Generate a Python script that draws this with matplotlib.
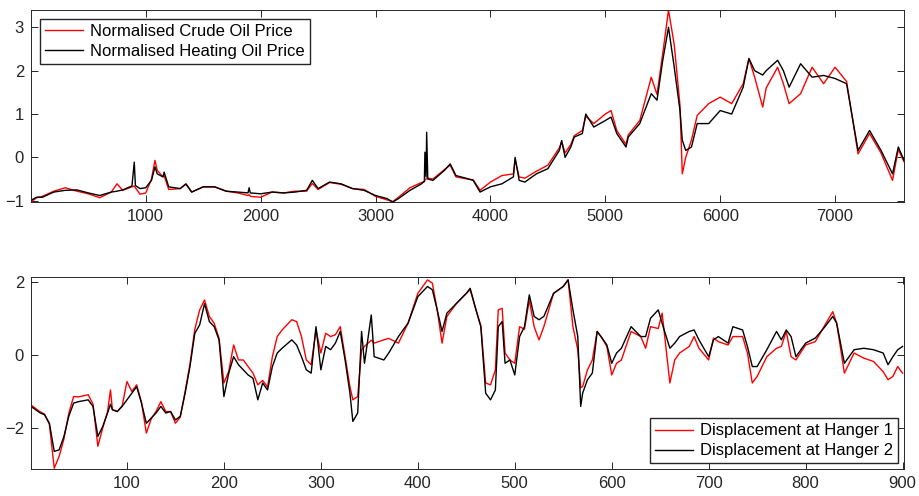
import numpy as np
import matplotlib.pyplot as plt

plt.rcParams['font.family'] = ['Liberation Sans', 'DejaVu Sans']

# top panel: oil prices (sample index, normalised value)
oil_x = [1, 50, 100, 200, 300, 400, 500, 600, 700, 750, 800, 880, 900, 910, 950,
         1000, 1050, 1080, 1100, 1150, 1160, 1200, 1300, 1350, 1400, 1500, 1600,
         1700, 1800, 1890, 1900, 1910, 2000, 2100, 2200, 2300, 2400, 2450, 2500,
         2600, 2700, 2800, 2900, 3000, 3100, 3150, 3200, 3300, 3400, 3425, 3430,
         3440, 3445, 3455, 3500, 3600, 3650, 3700, 3800, 3850, 3910, 4000, 4100,
         4200, 4215, 4250, 4300, 4400, 4500, 4600, 4620, 4650, 4700, 4730, 4800,
         4830, 4900, 5000, 5050, 5100, 5180, 5200, 5300, 5400, 5450, 5500, 5550,
         5600, 5650, 5670, 5700, 5750, 5800, 5900, 6000, 6100, 6200, 6250, 6300,
         6370, 6400, 6500, 6550, 6600, 6700, 6800, 6900, 7000, 7100, 7200, 7300,
         7400, 7500, 7550, 7600]
heating = [-0.99, -0.92, -0.92, -0.80, -0.76, -0.75, -0.82, -0.88, -0.80, -0.78,
           -0.75, -0.66, -0.11, -0.65, -0.72, -0.70, -0.53, -0.22, -0.38, -0.45,
           -0.34, -0.68, -0.72, -0.61, -0.80, -0.68, -0.68, -0.78, -0.80, -0.82,
           -0.70, -0.82, -0.84, -0.80, -0.82, -0.80, -0.76, -0.53, -0.72, -0.57,
           -0.61, -0.72, -0.76, -0.88, -0.95, -1.03, -0.95, -0.76, -0.61, -0.55,
           0.12, -0.45, 0.58, -0.50, -0.53, -0.30, -0.15, -0.42, -0.49, -0.53,
           -0.80, -0.68, -0.61, -0.45, 0.00, -0.53, -0.57, -0.38, -0.26, 0.16,
           0.39, 0.00, 0.24, 0.47, 0.55, 1.00, 0.70, 0.85, 0.93, 0.55, 0.24,
           0.47, 0.78, 1.47, 1.32, 2.24, 3.00, 2.08, 1.08, 0.40, 0.16, 0.24,
           0.78, 0.78, 1.08, 1.00, 1.62, 2.28, 2.00, 1.90, 2.00, 2.24, 2.00,
           1.62, 2.16, 1.85, 1.89, 1.82, 1.70, 0.16, 0.62, 0.16, -0.38, 0.24,
           -0.07]
crude = [-1.03, -0.93, -0.90, -0.78, -0.70, -0.78, -0.84, -0.93, -0.80, -0.61,
         -0.76, -0.68, -0.66, -0.70, -0.85, -0.82, -0.50, -0.07, -0.30, -0.45,
         -0.42, -0.74, -0.72, -0.62, -0.80, -0.68, -0.68, -0.78, -0.82, -0.88,
         -0.86, -0.90, -0.92, -0.80, -0.82, -0.78, -0.78, -0.60, -0.74, -0.58,
         -0.62, -0.72, -0.74, -0.90, -0.98, -1.02, -0.92, -0.70, -0.58, -0.56,
         -0.52, -0.50, -0.48, -0.48, -0.50, -0.28, -0.18, -0.45, -0.50, -0.52,
         -0.76, -0.57, -0.42, -0.38, -0.05, -0.45, -0.48, -0.32, -0.18, 0.22,
         0.36, 0.10, 0.30, 0.50, 0.62, 0.95, 0.78, 1.00, 1.08, 0.62, 0.30,
         0.52, 0.85, 1.85, 1.45, 2.40, 3.40, 2.60, 1.20, -0.38, 0.00, 0.40,
         0.97, 1.24, 1.39, 1.24, 1.70, 2.28, 1.85, 1.16, 1.60, 2.08, 1.70,
         1.24, 1.47, 2.08, 1.70, 2.08, 1.75, 0.08, 0.55, 0.10, -0.53, 0.18,
         -0.10]

# bottom panel: hanger displacements
hang_x = [1, 10, 15, 20, 25, 30, 35, 40, 45, 50, 60, 65, 70, 75, 80, 83, 85, 90,
          95, 100, 105, 110, 115, 120, 125, 130, 135, 140, 145, 150, 155, 160,
          165, 170, 175, 180, 185, 190, 195, 200, 205, 210, 215, 220, 225, 230,
          235, 240, 245, 250, 255, 260, 270, 275, 280, 285, 290, 295, 300, 305,
          310, 315, 320, 325, 330, 333, 338, 342, 345, 352, 355, 365, 370, 380,
          390, 400, 410, 415, 420, 425, 430, 440, 450, 454, 460, 465, 470, 475,
          480, 483, 487, 490, 495, 500, 505, 510, 515, 520, 525, 530, 540, 550,
          555, 560, 565, 568, 570, 575, 580, 585, 590, 595, 600, 605, 610, 620,
          630, 635, 640, 648, 652, 660, 665, 670, 680, 685, 690, 700, 705, 710,
          720, 725, 735, 740, 745, 750, 760, 770, 775, 780, 785, 790, 800, 810,
          820, 828, 832, 840, 850, 860, 870, 880, 885, 890, 895, 900]
hanger1 = [-1.37, -1.55, -1.62, -1.90, -3.10, -2.78, -2.30, -1.60, -1.14, -1.15,
           -1.09, -1.35, -2.50, -2.00, -1.55, -0.96, -1.50, -1.55, -1.40, -0.73,
           -1.00, -0.82, -1.30, -2.14, -1.75, -1.55, -1.28, -1.55, -1.55, -1.87,
           -1.70, -1.00, -0.25, 0.70, 1.23, 1.50, 1.05, 0.86, 0.45, -0.77, -0.45,
           0.27, -0.14, -0.14, -0.32, -0.50, -0.82, -0.70, -0.88, -0.05, 0.50,
           0.68, 0.96, 0.91, 0.50, -0.14, -0.27, 0.68, 0.05, 0.59, 0.50, 0.55,
           0.77, -0.05, -0.87, -1.23, -1.14, 0.14, 0.23, 0.40, 0.32, 0.41, 0.45,
           0.32, 0.87, 1.68, 2.05, 1.96, 1.23, 0.32, 1.05, 1.41, 1.68, 1.78, 1.23,
           0.80, -0.77, -0.82, -0.41, 1.23, 1.27, 0.05, -0.14, -0.23, 0.77, 0.70,
           1.50, 0.77, 0.41, 0.77, 1.68, 1.87, 2.05, 0.77, 0.14, -0.90, -0.87,
           -0.41, -0.14, 0.64, 0.46, 0.23, -0.55, -0.23, -0.14, 0.64, 0.50, 0.18,
           0.77, 0.72, 1.14, -0.77, -0.14, 0.05, 0.23, 0.50, 0.18, -0.14, 0.46,
           0.36, 0.27, 0.50, 0.50, 0.05, -0.77, -0.59, -0.05, 0.18, 0.23, 0.64,
           -0.05, -0.14, 0.27, 0.36, 0.82, 1.18, 0.87, -0.50, 0.05, -0.09, -0.18,
           -0.46, -0.68, -0.59, -0.32, -0.50]
hanger2 = [-1.41, -1.58, -1.64, -1.87, -2.64, -2.60, -2.23, -1.68, -1.32, -1.28,
           -1.23, -1.41, -2.23, -1.96, -1.59, -1.35, -1.50, -1.55, -1.41, -1.23,
           -1.05, -0.87, -1.32, -1.87, -1.73, -1.59, -1.41, -1.59, -1.55, -1.78,
           -1.68, -1.05, -0.32, 0.59, 0.82, 1.40, 0.91, 0.77, 0.41, -1.14, -0.50,
           -0.05, -0.27, -0.41, -0.55, -0.64, -1.23, -0.77, -0.96, -0.32, 0.05,
           0.18, 0.41, 0.27, -0.05, -0.41, -0.50, 0.77, -0.41, 0.23, 0.14, 0.32,
           0.64, -0.14, -1.05, -1.82, -1.59, 0.64, -0.23, 1.09, -0.05, -0.14,
           0.05, 0.50, 0.87, 1.59, 1.87, 1.78, 1.23, 0.64, 1.14, 1.41, 1.68,
           1.82, 1.23, 0.77, -1.05, -1.23, -0.96, 0.77, 0.91, -0.23, -0.14, -0.55,
           0.50, 0.77, 1.64, 1.05, 0.96, 1.05, 1.68, 1.87, 2.05, 1.23, 0.50,
           -1.41, -1.05, -0.68, -0.50, 0.64, 0.46, 0.27, -0.23, 0.05, 0.18, 0.77,
           0.50, 0.50, 1.00, 1.23, 0.86, 0.18, 0.32, 0.50, 0.64, 0.68, 0.41,
           -0.05, 0.41, 0.50, 0.32, 0.77, 0.68, 0.23, -0.32, -0.32, 0.14, 0.64,
           0.41, 0.68, 0.50, -0.05, 0.32, 0.46, 0.77, 1.05, 0.87, -0.23, 0.14,
           0.18, 0.14, 0.05, -0.27, -0.05, 0.14, 0.23]

grey = '#262626'
fig = plt.figure(figsize=(9.19, 4.96), dpi=100)
ax1 = fig.add_axes([0.0337, 0.5927, 0.95, 0.3871])
ax2 = fig.add_axes([0.0337, 0.0538, 0.95, 0.3871])

ax1.plot(oil_x, crude, color='r', lw=1.0, label='Normalised Crude Oil Price')
ax1.plot(oil_x, heating, color='k', lw=1.0, label='Normalised Heating Oil Price')
ax1.set_xlim(1, 7600)
ax1.set_ylim(-1.03, 3.4)
ax1.set_xticks(np.arange(1000, 7001, 1000))
ax1.set_yticks([-1, 0, 1, 2, 3])
ax1.legend(loc='upper left', fancybox=False, edgecolor=grey, framealpha=1,
           fontsize=12, borderaxespad=0.55, handlelength=2.3, borderpad=0.3,
           labelspacing=0.3, handletextpad=0.4)

ax2.plot(hang_x, hanger1, color='r', lw=1.0, label='Displacement at Hanger 1')
ax2.plot(hang_x, hanger2, color='k', lw=1.0, label='Displacement at Hanger 2')
ax2.set_xlim(1, 901.5)
ax2.set_ylim(-3.13, 2.12)
ax2.set_xticks(np.arange(100, 901, 100))
ax2.set_yticks([-2, 0, 2])
ax2.legend(loc='lower right', fancybox=False, edgecolor=grey, framealpha=1,
           fontsize=12, borderaxespad=0.35, handlelength=2.3, borderpad=0.3,
           labelspacing=0.3, handletextpad=0.4)

for ax in (ax1, ax2):
    for s in ax.spines.values():
        s.set_color(grey)
        s.set_linewidth(0.7)
    ax.tick_params(direction='in', top=True, right=True, length=5, width=0.7,
                   colors=grey, labelsize=12, pad=5)

fig.savefig('out.png', dpi=100)
